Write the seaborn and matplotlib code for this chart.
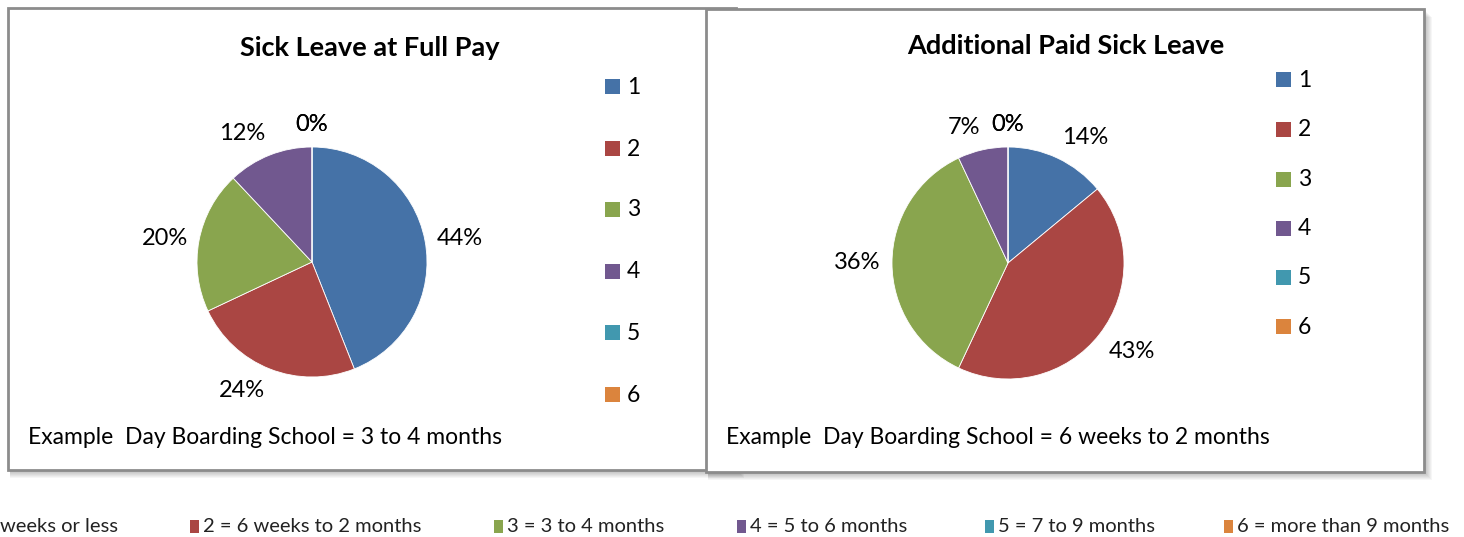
import numpy as np
import seaborn as sns
import matplotlib.pyplot as plt
from matplotlib.patches import Rectangle

# data
categories = ['1', '2', '3', '4', '5', '6']
full_pay = [44, 24, 20, 12, 0, 0]
additional = [14, 43, 36, 7, 0, 0]
titles = ['Sick Leave at Full Pay', 'Additional Paid Sick Leave']
footers = ['Example  Day Boarding School = 3 to 4 months',
           'Example  Day Boarding School = 6 weeks to 2 months']
key_labels = ['weeks or less', '2 = 6 weeks to 2 months', '3 = 3 to 4 months',
              '4 = 5 to 6 months', '5 = 7 to 9 months', '6 = more than 9 months']

sns.set_theme(style='white')
colors = sns.color_palette(['#4572A7', '#AA4643', '#89A54E',
                            '#71588F', '#4198AF', '#DB843D'])
plt.rcParams['font.family'] = ['Lato', 'DejaVu Sans']

W, H = 1464, 537
fig = plt.figure(figsize=(W / 100, H / 100), dpi=100)


def fx(x):
    return x / W


def fy(y):
    return 1 - y / H


def panel(x0, y0, x1, y1, z):
    # soft shadow, then the white frame
    for i in range(8, 0, -1):
        fig.add_artist(Rectangle((fx(x0 + 2), fy(y1 + i)), fx(x1 - x0 + i - 2),
                                 (y1 - y0) / H, transform=fig.transFigure,
                                 facecolor='black', edgecolor='none',
                                 alpha=0.035, zorder=z))
    fig.add_artist(Rectangle((fx(x0), fy(y1)), fx(x1 - x0), (y1 - y0) / H,
                             transform=fig.transFigure, facecolor='white',
                             edgecolor='#8c8c8c', linewidth=2, zorder=z + 0.5))


panel(8, 8, 736, 470, -6)
panel(706, 9, 1424, 472, -4)

pies = [
    dict(vals=full_pay, cx=312, cy=262, r=115, title=(370, 48),
         leg_x=605, leg_y=[87, 149, 210, 272, 333, 395], foot=(28, 437)),
    dict(vals=additional, cx=1008, cy=263, r=116, title=(1066, 46),
         leg_x=1276, leg_y=[80, 130, 180, 229, 278, 327], foot=(726, 438)),
]

for k, p in enumerate(pies):
    half = 170
    ax = fig.add_axes([fx(p['cx'] - half), fy(p['cy'] + half),
                       fx(2 * half), 2 * half / H])
    wedges, _ = ax.pie(p['vals'], colors=colors, startangle=90,
                       counterclock=False, radius=1,
                       wedgeprops=dict(linewidth=0.6, edgecolor='white'))
    lim = half / p['r']
    ax.set_xlim(-lim, lim)
    ax.set_ylim(-lim, lim)
    for w, v in zip(wedges, p['vals']):
        th = np.deg2rad((w.theta1 + w.theta2) / 2)
        c, s = np.cos(th), np.sin(th)
        ha = 'left' if c > 0.15 else ('right' if c < -0.15 else 'center')
        va = 'bottom' if s > 0.3 else ('top' if s < -0.3 else 'center')
        ax.text(1.1 * c, 1.1 * s, f'{v}%', ha=ha, va=va, fontsize=17,
                color='black')

    fig.text(fx(p['title'][0]), fy(p['title'][1]), titles[k], ha='center',
             va='center', fontsize=19.5, fontweight='bold', color='black')
    for cat, col, ly in zip(categories, colors, p['leg_y']):
        fig.add_artist(Rectangle((fx(p['leg_x']), fy(ly + 7)), fx(15), 15 / H,
                                 transform=fig.transFigure, facecolor=col,
                                 edgecolor='none'))
        fig.text(fx(p['leg_x'] + 22), fy(ly), cat, ha='left', va='center',
                 fontsize=16.5, color='black')
    fig.text(fx(p['foot'][0]), fy(p['foot'][1]), footers[k], ha='left',
             va='center', fontsize=16.5, color='black')

# bottom key strip (first entry is cut at the left edge)
key_x = [None, 190, 494, 737, 985, 1224]
for lab, col, kx in zip(key_labels, colors, key_x):
    if kx is None:
        fig.text(0, fy(526), lab, ha='left', va='center', fontsize=14.5,
                 color='#222222')
        continue
    fig.add_artist(Rectangle((fx(kx), fy(533)), fx(9), 13 / H,
                             transform=fig.transFigure, facecolor=col,
                             edgecolor='none'))
    fig.text(fx(kx + 13), fy(526), lab, ha='left', va='center', fontsize=14.5,
             color='#222222')

fig.savefig('out.png', dpi=100)
